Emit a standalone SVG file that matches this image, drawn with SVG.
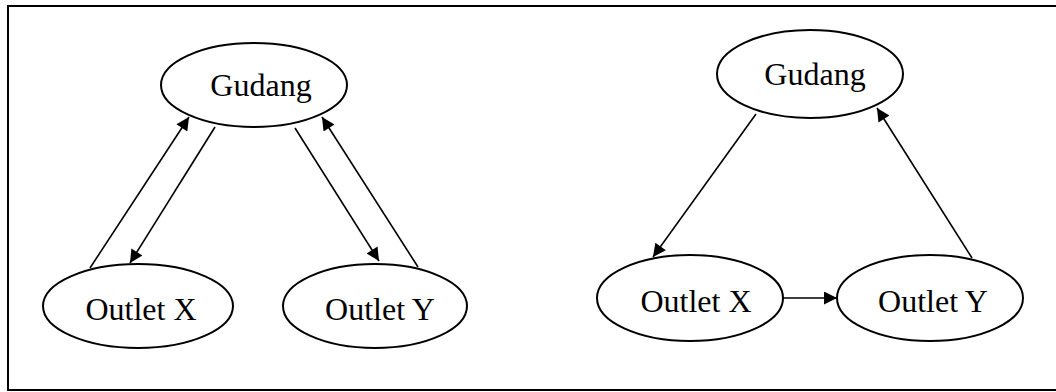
<svg xmlns="http://www.w3.org/2000/svg" width="1056" height="392" viewBox="0 0 1056 392">
  <style>
    .frame { fill: none; stroke: #000; stroke-width: 2; }
    .node ellipse { fill: #fff; stroke: #000; stroke-width: 2; }
    .node text { font-family: "Liberation Serif", "Times New Roman", serif; font-size: 32px; fill: #000; text-anchor: middle; }
    .edge { stroke: #000; stroke-width: 1.6; fill: none; marker-end: url(#arrow); }
  </style>
  <defs>
    <marker id="arrow" viewBox="0 0 10 10" refX="10" refY="5" markerWidth="17" markerHeight="13" markerUnits="userSpaceOnUse" orient="auto">
      <path d="M0,0 L10,5 L0,10 Z" fill="#000"/>
    </marker>
  </defs>
  <rect width="1056" height="392" fill="#fff"/>
  <rect class="frame" x="8" y="6" width="1060" height="384"/>

  <!-- Two-way distribution: warehouse and outlets exchange both ways -->
  <g id="gudang-a" class="node">
    <ellipse cx="254" cy="85" rx="93" ry="42"/>
    <text x="261" y="96">Gudang</text>
  </g>
  <g id="outlet-x-a" class="node">
    <ellipse cx="138" cy="306" rx="95" ry="42"/>
    <text x="141" y="320">Outlet X</text>
  </g>
  <g id="outlet-y-a" class="node">
    <ellipse cx="375" cy="306" rx="92" ry="42"/>
    <text x="380" y="320">Outlet Y</text>
  </g>

  <!-- Route: warehouse, outlet X, outlet Y, back to warehouse -->
  <g id="gudang-b" class="node">
    <ellipse cx="810" cy="74" rx="93" ry="44"/>
    <text x="815" y="85">Gudang</text>
  </g>
  <g id="outlet-x-b" class="node">
    <ellipse cx="690" cy="298" rx="93" ry="43"/>
    <text x="696" y="312">Outlet X</text>
  </g>
  <g id="outlet-y-b" class="node">
    <ellipse cx="930" cy="298" rx="93" ry="43"/>
    <text x="933" y="312">Outlet Y</text>
  </g>

  <g id="connectors">
    <line class="edge" x1="90" y1="268" x2="189" y2="117"/>
    <line class="edge" x1="215" y1="127" x2="130" y2="263"/>
    <line class="edge" x1="295" y1="128" x2="379" y2="261"/>
    <line class="edge" x1="418" y1="267" x2="322" y2="117"/>

    <line class="edge" x1="756" y1="114" x2="653" y2="257"/>
    <line class="edge" x1="783" y1="298" x2="837" y2="298"/>
    <line class="edge" x1="972" y1="258" x2="877" y2="108"/>
  </g>
</svg>
